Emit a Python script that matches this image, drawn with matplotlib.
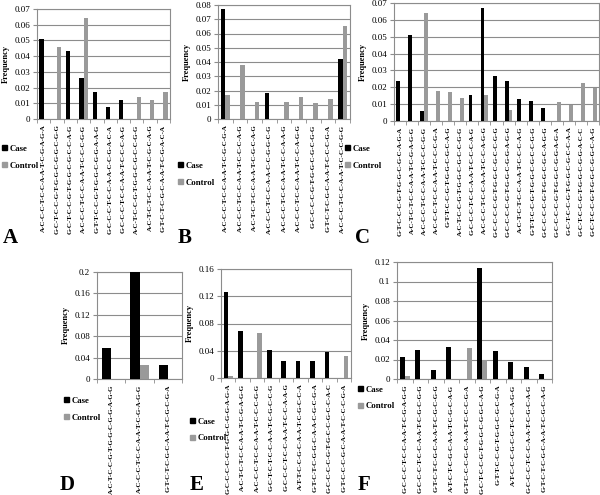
import numpy as np
import matplotlib.pyplot as plt
from matplotlib.patches import Patch

plt.rcParams['font.family'] = ['Liberation Serif', 'DejaVu Serif']

W, H = 600, 495

# ---- DATA ----
labels_a = ["A-C-C-C-T-C-C-A-A-T-C-G-A-G-A", "G-C-T-C-C-G-T-G-G-C-G-G-C-G-G",
            "G-C-T-C-C-G-T-G-G-C-G-C-C-A-G", "A-C-C-C-T-C-C-A-A-T-C-C-C-G-G",
            "G-T-T-C-C-G-T-G-G-C-G-G-A-A-G", "G-C-C-C-T-C-C-A-A-C-C-G-A-C-A",
            "G-C-C-C-T-C-C-A-A-T-C-C-C-A-G", "A-C-T-C-C-G-T-G-G-C-G-C-C-G-G",
            "A-C-T-C-T-C-C-A-A-T-C-G-C-A-G", "G-T-C-T-C-G-C-A-A-T-C-G-A-C-A"]
case_a    = [0.051, 0, 0.043, 0.026, 0.0175, 0.0078, 0.0122, 0, 0, 0]
control_a = [0, 0.046, 0, 0.0645, 0, 0, 0, 0.0143, 0.0122, 0.0175]

labels_b = ["A-C-C-C-T-C-C-A-A-T-C-G-C-G-A", "A-C-C-C-T-C-C-A-A-T-C-C-C-A-G",
            "A-C-T-C-T-C-C-A-A-T-C-G-C-A-G", "A-C-C-C-T-C-C-A-A-C-C-G-G-C-G",
            "A-C-C-C-T-C-C-A-A-T-C-C-A-A-G", "A-C-C-C-T-C-C-A-A-T-C-C-A-G-G",
            "G-C-C-C-C-G-T-G-G-C-G-C-G-G", "G-T-C-T-C-G-C-A-A-T-C-C-C-G-A",
            "A-C-C-C-T-C-C-A-A-T-C-C-C-G-G"]
case_b    = [0.077, 0, 0, 0.018, 0, 0, 0, 0, 0.042]
control_b = [0.017, 0.038, 0.012, 0, 0.012, 0.0155, 0.011, 0.0138, 0.065]

labels_c = ["G-T-C-C-C-G-T-G-G-C-G-C-A-G-A", "A-C-T-C-T-C-C-A-A-T-C-G-A-G-G",
            "A-C-C-C-T-C-C-A-A-T-C-C-C-G-G", "A-C-C-C-T-C-C-A-A-T-C-C-C-G-A",
            "G-T-T-C-C-G-T-G-G-C-G-C-A-G", "A-C-T-C-C-G-T-G-G-C-G-C-C-G-G",
            "G-C-C-C-T-C-C-A-A-T-C-C-C-A-G", "A-C-C-C-T-C-C-A-A-T-C-C-A-G-G",
            "G-C-C-C-C-G-T-G-G-C-G-C-C-G-G", "G-C-C-C-C-G-T-G-G-C-G-G-A-G-G",
            "A-C-T-C-T-C-C-A-A-T-C-C-C-A-G", "G-T-T-C-C-G-T-G-G-C-G-C-C-G-G",
            "G-C-C-C-C-G-T-G-G-C-G-C-A-G-G", "G-C-C-C-C-G-T-G-G-C-G-G-A-G-A",
            "G-C-T-C-C-G-T-G-G-C-G-C-C-A-A", "G-C-T-C-C-G-T-G-G-C-G-G-A-C-C",
            "G-C-T-C-C-G-T-G-G-C-G-G-C-A-G"]
case_c    = [0.0237, 0.051, 0.0057, 0, 0, 0, 0.0153, 0.067, 0.0267, 0.024,
             0.0131, 0.0116, 0.0075, 0, 0, 0, 0]
control_c = [0, 0, 0.064, 0.018, 0.0173, 0.0137, 0, 0.0153, 0, 0.0067,
             0, 0, 0, 0.0114, 0.0092, 0.0227, 0.0198]

labels_d = ["A-C-T-C-C-G-T-G-G-C-G-G-A-G-G", "A-C-C-C-T-C-C-A-A-T-C-G-A-G-G",
            "G-T-C-T-C-G-C-A-A-T-C-G-C-G-A"]
case_d    = [0.058, 0.2, 0.027]
control_d = [0, 0.027, 0]

labels_e = ["G-C-C-C-C-G-T-G-G-C-G-G-A-G-A", "A-C-T-C-T-C-C-A-A-T-C-G-A-G-G",
            "A-C-C-C-T-C-C-A-A-T-C-C-C-G-G", "G-C-T-C-T-C-C-A-A-T-C-G-C-C-G",
            "G-C-C-C-T-C-C-A-A-T-C-C-A-A-G", "A-T-T-C-C-G-C-A-A-T-C-G-C-C-A",
            "G-T-C-T-C-G-G-C-A-A-C-G-C-G-A", "G-C-C-C-C-G-T-G-C-C-G-C-C-A-C",
            "G-T-C-C-C-G-C-A-A-T-C-C-C-G-A"]
case_e    = [0.126, 0.069, 0, 0.041, 0.0247, 0.0247, 0.0247, 0.0375, 0]
control_e = [0.003, 0, 0.0657, 0, 0, 0, 0, 0, 0.0316]

labels_f = ["G-C-C-C-T-C-C-A-A-T-C-G-A-G-G", "G-C-C-C-T-C-C-A-A-T-C-G-C-G-G",
            "G-T-C-T-C-G-C-A-A-T-C-G-C-G-G", "A-T-C-T-C-G-C-A-A-T-C-G-C-A-G",
            "G-T-C-C-C-G-C-A-A-T-C-C-C-G-A", "G-C-T-C-C-G-T-G-G-C-G-G-C-A-G",
            "G-T-T-C-C-G-T-G-G-C-G-C-G-A", "A-T-C-C-C-G-C-G-T-C-C-A-G-G",
            "G-C-C-C-T-C-C-A-A-T-C-G-C-A-G", "G-T-C-T-C-G-C-A-A-T-C-G-C-A-G"]
case_f    = [0.0223, 0.030, 0.0096, 0.0329, 0, 0.1139, 0.0285, 0.0172, 0.0127, 0.0048]
control_f = [0.0034, 0, 0, 0, 0.0319, 0.020, 0, 0, 0, 0]

# ---- LAYOUT (pixel boxes: x0, y0, x1, y1) ----
panels = [
    # letter, labels, case, control, box, ymax, ystep, fmt, letter pos, legend pos
    ("A", labels_a, case_a, control_a, (37, 9, 170, 119), 0.07, 0.01, "{:.2f}", (3, 243), (0, 143)),
    ("B", labels_b, case_b, control_b, (218, 5, 350, 119), 0.08, 0.01, "{:.2f}", (178, 243), (176, 160)),
    ("C", labels_c, case_c, control_c, (394, 3, 599, 121), 0.07, 0.01, "{:.2f}", (355, 243), (343, 143)),
    ("D", labels_d, case_d, control_d, (97, 272, 182, 379), 0.2, 0.04, "{:g}", (60, 490), (62, 395)),
    ("E", labels_e, case_e, control_e, (221, 269, 351, 378), 0.16, 0.04, "{:g}", (190, 490), (188, 416)),
    ("F", labels_f, case_f, control_f, (397, 262, 552, 379), 0.12, 0.02, "{:g}", (358, 490), (356, 384)),
]

fig = plt.figure(figsize=(W / 100, H / 100), dpi=100)
gray = "#9a9a9a"
edge = "#8c8c8c"
bw = 0.32

for letter, labels, case, control, box, ymax, ystep, fmt, lpos, gpos in panels:
    x0, y0, x1, y1 = box
    ax = fig.add_axes([x0 / W, 1 - y1 / H, (x1 - x0) / W, (y1 - y0) / H])
    x = np.arange(len(labels))
    ax.bar(x - bw / 2, case, bw, color="black", zorder=3)
    ax.bar(x + bw / 2, control, bw, color=gray, zorder=3)

    ax.set_xlim(-0.5, len(labels) - 0.5)
    ax.set_ylim(0, ymax)
    yt = np.arange(0, ymax + ystep / 2, ystep)
    ax.set_yticks(yt)
    ax.set_yticklabels(["0"] + [fmt.format(v) for v in yt[1:]], fontsize=6.5)
    ax.yaxis.grid(True, color=edge, lw=0.8, zorder=0)

    ax.set_xticks(x)
    ax.set_xticklabels(labels, rotation=90, fontsize=5.0, fontweight="bold")
    ax.set_xticks(np.arange(-0.5, len(labels), 1), minor=True)
    ax.tick_params(axis="x", which="major", length=0, pad=4)
    ax.tick_params(axis="x", which="minor", length=3, color=edge, direction="out")
    ax.tick_params(axis="y", length=3, color=edge, pad=2)

    for s in ax.spines.values():
        s.set_color(edge)
        s.set_linewidth(0.8)

    ax.set_ylabel("Frequency", fontsize=6, fontweight="bold", labelpad=3)

    fig.text(lpos[0] / W, 1 - lpos[1] / H, letter,
             fontsize=15, fontweight="bold", ha="left", va="baseline")

    handles = [Patch(color="black"), Patch(color=gray)]
    fig.legend(handles, ["Case", "Control"], loc="upper left",
               bbox_to_anchor=(gpos[0] / W, 1 - gpos[1] / H), frameon=False,
               prop={"size": 6.3, "weight": "bold"}, handlelength=0.55, handleheight=0.55,
               handletextpad=0.3, labelspacing=1.0, borderaxespad=0, borderpad=0.2)

fig.savefig("out.png", dpi=100)
